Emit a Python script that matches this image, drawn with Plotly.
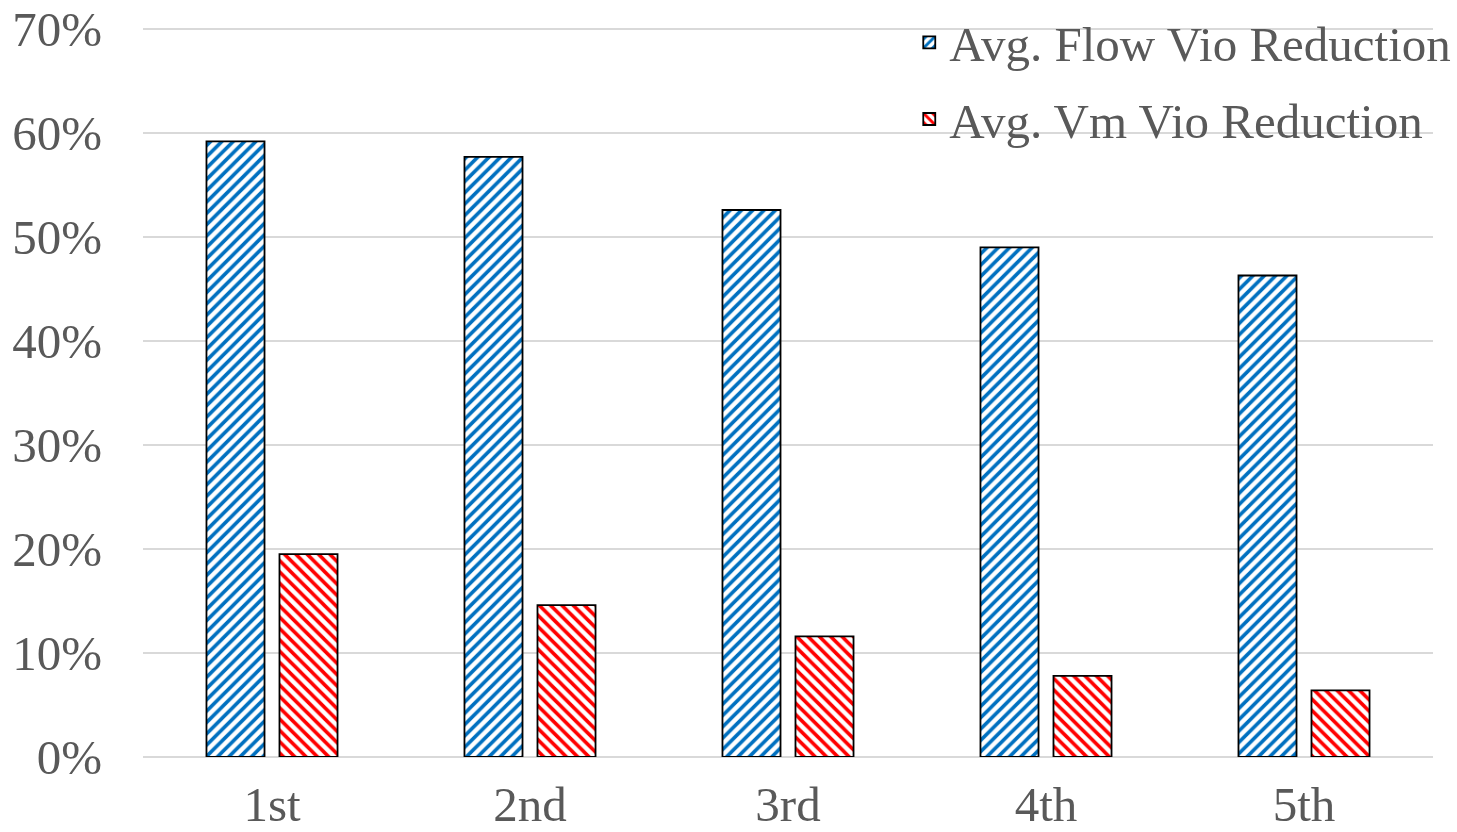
import plotly.graph_objects as go

categories = ["1st", "2nd", "3rd", "4th", "5th"]
flow_reduction = [0.592, 0.577, 0.526, 0.490, 0.463]
vm_reduction = [0.195, 0.146, 0.116, 0.078, 0.064]
y_ticks = [0, 0.1, 0.2, 0.3, 0.4, 0.5, 0.6, 0.7]
y_tick_labels = ["0%", "10%", "20%", "30%", "40%", "50%", "60%", "70%"]

FONT = "Liberation Serif, Times New Roman, serif"
TEXT = "#595959"
GRID = "#d9d9d9"

fig = go.Figure()
fig.add_trace(go.Bar(
    x=categories, y=flow_reduction, name="Avg. Flow Vio Reduction",
    legendgroup="flow",
    marker=dict(
        color="white",
        line=dict(color="black", width=1.8),
        pattern=dict(shape="/", fgcolor="#0070C0", bgcolor="white",
                     size=8, solidity=0.45, fillmode="replace"),
    ),
))
fig.add_trace(go.Bar(
    x=categories, y=vm_reduction, name="Avg. Vm Vio Reduction",
    legendgroup="vm",
    marker=dict(
        color="white",
        line=dict(color="black", width=1.8),
        pattern=dict(shape="\\", fgcolor="#FF0000", bgcolor="white",
                     size=8, solidity=0.45, fillmode="replace"),
    ),
))

fig.update_layout(
    width=1457, height=832,
    margin=dict(l=143, r=24, t=28, b=75, autoexpand=False),
    paper_bgcolor="white", plot_bgcolor="white",
    barmode="group", bargap=0.434, bargroupgap=0.205,
    font=dict(family=FONT, size=49, color=TEXT),
    showlegend=True,
    legend=dict(
        x=0.594, y=1.033, xanchor="left", yanchor="top",
        bgcolor="rgba(0,0,0,0)", font=dict(family=FONT, size=49, color=TEXT),
        tracegroupgap=10, itemwidth=30,
    ),
    xaxis=dict(
        showgrid=False, showline=False, ticks="", ticklabelstandoff=14,
        tickfont=dict(family=FONT, size=49, color=TEXT),
    ),
    yaxis=dict(
        range=[0, 0.701], tickvals=y_ticks, ticktext=y_tick_labels,
        showgrid=True, gridcolor=GRID, gridwidth=1.5,
        zeroline=True, zerolinecolor=GRID, zerolinewidth=2,
        showline=False, ticks="", ticklabelstandoff=40,
        tickfont=dict(family=FONT, size=49, color=TEXT),
    ),
)

fig.write_html("out.html")
